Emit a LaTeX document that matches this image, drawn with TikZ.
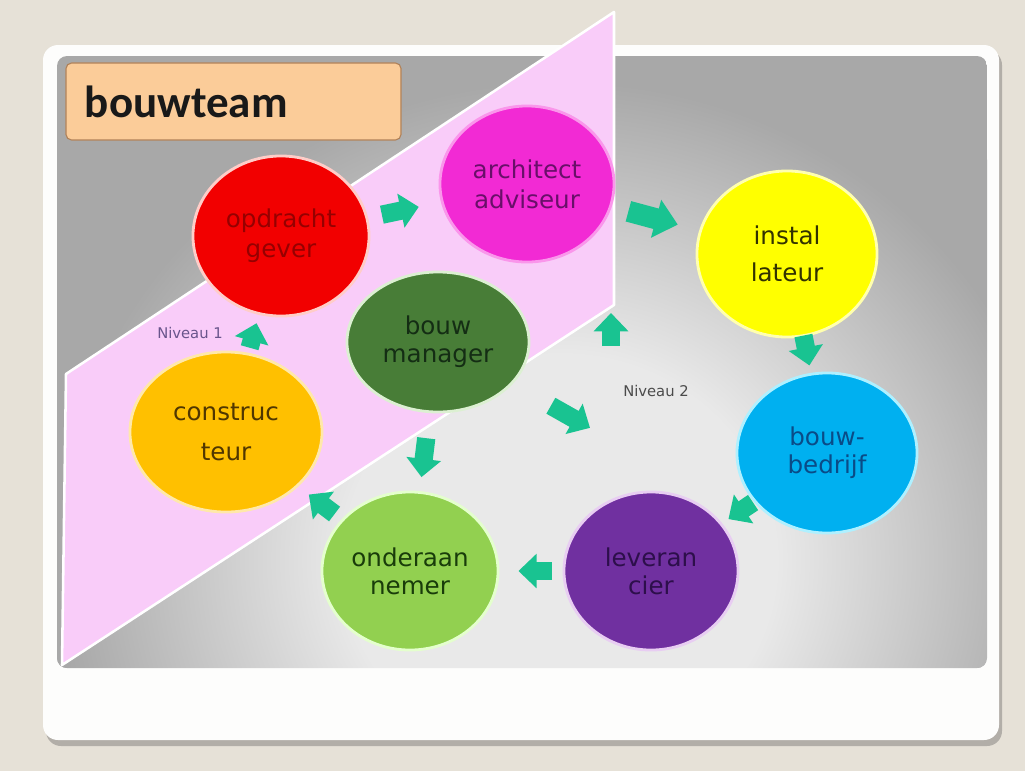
\documentclass[tikz,border=0pt]{standalone}
\usepackage{fontspec}
\newfontfamily\dvs{DejaVu Sans}
\newfontfamily\carl{Carlito}
\usetikzlibrary{shapes.geometric,arrows.meta,calc}
\definecolor{bgc}{RGB}{230,225,215}
\definecolor{shadc}{RGB}{178,174,168}
\definecolor{cardc}{RGB}{253,253,252}
\definecolor{pnlL}{RGB}{233,233,233}
\definecolor{pnlD}{RGB}{168,168,168}
\definecolor{pinkc}{RGB}{249,204,249}
\definecolor{boxf}{RGB}{251,204,153}
\definecolor{boxb}{RGB}{176,130,90}
\definecolor{arrc}{RGB}{25,195,145}
\definecolor{opdF}{RGB}{242,0,0}\definecolor{opdO}{RGB}{255,205,200}\definecolor{opdT}{RGB}{150,0,0}
\definecolor{archF}{RGB}{242,42,212}\definecolor{archO}{RGB}{250,150,235}\definecolor{archT}{RGB}{105,15,105}
\definecolor{instF}{RGB}{255,255,0}\definecolor{instO}{RGB}{255,255,175}\definecolor{instT}{RGB}{50,50,0}
\definecolor{bmF}{RGB}{72,125,55}\definecolor{bmO}{RGB}{220,240,210}\definecolor{bmT}{RGB}{20,45,20}
\definecolor{conF}{RGB}{255,192,0}\definecolor{conO}{RGB}{255,232,170}\definecolor{conT}{RGB}{80,55,0}
\definecolor{bbF}{RGB}{0,176,240}\definecolor{bbO}{RGB}{175,240,255}\definecolor{bbT}{RGB}{10,75,135}
\definecolor{levF}{RGB}{112,48,160}\definecolor{levO}{RGB}{232,205,242}\definecolor{levT}{RGB}{45,15,75}
\definecolor{ondF}{RGB}{146,208,80}\definecolor{ondO}{RGB}{228,255,205}\definecolor{ondT}{RGB}{25,60,10}
\definecolor{niv1}{RGB}{105,85,140}
\definecolor{niv2}{RGB}{75,75,75}
\pgfdeclareradialshading{panelshade}{\pgfpoint{0bp}{0bp}}{color(0bp)=(pnlL); color(9bp)=(pnlL); color(21bp)=(pnlD); color(50bp)=(pnlD)}
\tikzset{
  circ/.style 2 args={ellipse, inner sep=0pt, minimum width=#1*0.05cm, minimum height=#2*0.05cm, line width=2pt, align=center},
  ctext/.style={font={\dvs\fontsize{17.5pt}{#1}\selectfont}},
  blk/.style={draw=arrc, line width=13pt, -{Triangle[length=13pt,width=24pt]}},
  nivtext/.style={font={\dvs\fontsize{10.5pt}{12pt}\selectfont}},
}
\begin{document}
\begin{tikzpicture}[x=0.025cm,y=-0.025cm]
\useasboundingbox (0,0) rectangle (1025,771);
\fill[bgc] (0,0) rectangle (1025,771);
% card
\fill[shadc, rounded corners=0.375cm] (46,50) rectangle (1002,746);
\fill[cardc, rounded corners=0.375cm] (43,45) rectangle (999,740);
% panel
\begin{scope}
\clip[rounded corners=0.25cm] (57,56) rectangle (987,668);
\fill[pnlD] (57,56) rectangle (987,668);
\shade[shading=panelshade] (560,560) ellipse [x radius=600, y radius=570];
\end{scope}
% pink parallelogram
\filldraw[fill=pinkc, draw=white, line width=1.8pt, line join=round] (66,374) -- (614,12) -- (614,305) -- (62,665) -- cycle;
% title box
\node (title) [draw=boxb, fill=boxf, line width=0.8pt, rounded corners=4pt,
  minimum width=8.375cm, minimum height=1.925cm, text width=7.425cm, inner xsep=0.475cm,
  align=left, font={\carl\bfseries\fontsize{32pt}{38pt}\selectfont}, text=black!90] at (233.5,101.5) {bouwteam};
% circles
\node (opd)  [circ={88}{80}, fill=opdF,  draw=opdO,  text=opdT,  ctext=21.3pt] at (281,236) {opdracht\\gever};
\node (arch) [circ={87}{78}, fill=archF, draw=archO, text=archT, ctext=21.3pt] at (527,184) {architect\\adviseur};
\node (inst) [circ={90}{83}, fill=instF, draw=instO, text=instT, ctext=26.3pt] at (787,254) {instal\\lateur};
\node (bm)   [circ={91}{70}, fill=bmF,   draw=bmO,   text=bmT,   ctext=19.9pt] at (438,342) {bouw\\manager};
\node (con)  [circ={96}{80}, fill=conF,  draw=conO,  text=conT,  ctext=28.5pt] at (226,432) {construc\\teur};
\node (bb)   [circ={90}{80}, fill=bbF,   draw=bbO,   text=bbT,   ctext=19.9pt] at (827,453) {bouw-\\bedrijf};
\node (lev)  [circ={87}{79}, fill=levF,  draw=levO,  text=levT,  ctext=19.9pt] at (651,571) {leveran\\cier};
\node (ond)  [circ={88}{79}, fill=ondF,  draw=ondO,  text=ondT,  ctext=19.9pt] at (410,571) {onderaan\\nemer};
% labels
\node (n1) [nivtext, text=niv1] at (190,333) {Niveau 1};
\node (n2) [nivtext, text=niv2] at (656,391) {Niveau 2};
% arrows
\draw[blk] ($(opd)!0.41!(arch)$) -- ($(opd)!0.56!(arch)$);
\draw[blk, line width=15pt, -{Triangle[length=16pt,width=27pt]}] ($(arch)!0.39!(inst)$) -- ($(arch)!0.58!(inst)$);
\draw[blk] ($(inst)!0.41!(bb)$) -- ($(inst)!0.56!(bb)$);
\draw[blk] ($(bb)!0.42!(lev)$) -- ($(bb)!0.56!(lev)$);
\draw[blk] ($(lev)!0.41!(ond)$) -- ($(lev)!0.55!(ond)$);
\draw[blk] ($(ond)!0.41!(con)$) -- ($(ond)!0.55!(con)$);
\draw[blk] ($(con)!0.43!(opd)$) -- ($(con)!0.555!(opd)$);
\draw[blk] ($(bm)!0.42!(ond)$) -- ($(bm)!0.59!(ond)$);
\coordinate (blv) at ($(bb)!0.5!(lev)$);
\draw[blk] ($(bm)!0.375!(blv)$) -- ($(bm)!0.505!(blv)$);
\coordinate (a10s) at (611,346);
\coordinate (a10e) at (611,313);
\draw[blk] (a10s) -- (a10e);
\end{tikzpicture}
\end{document}
